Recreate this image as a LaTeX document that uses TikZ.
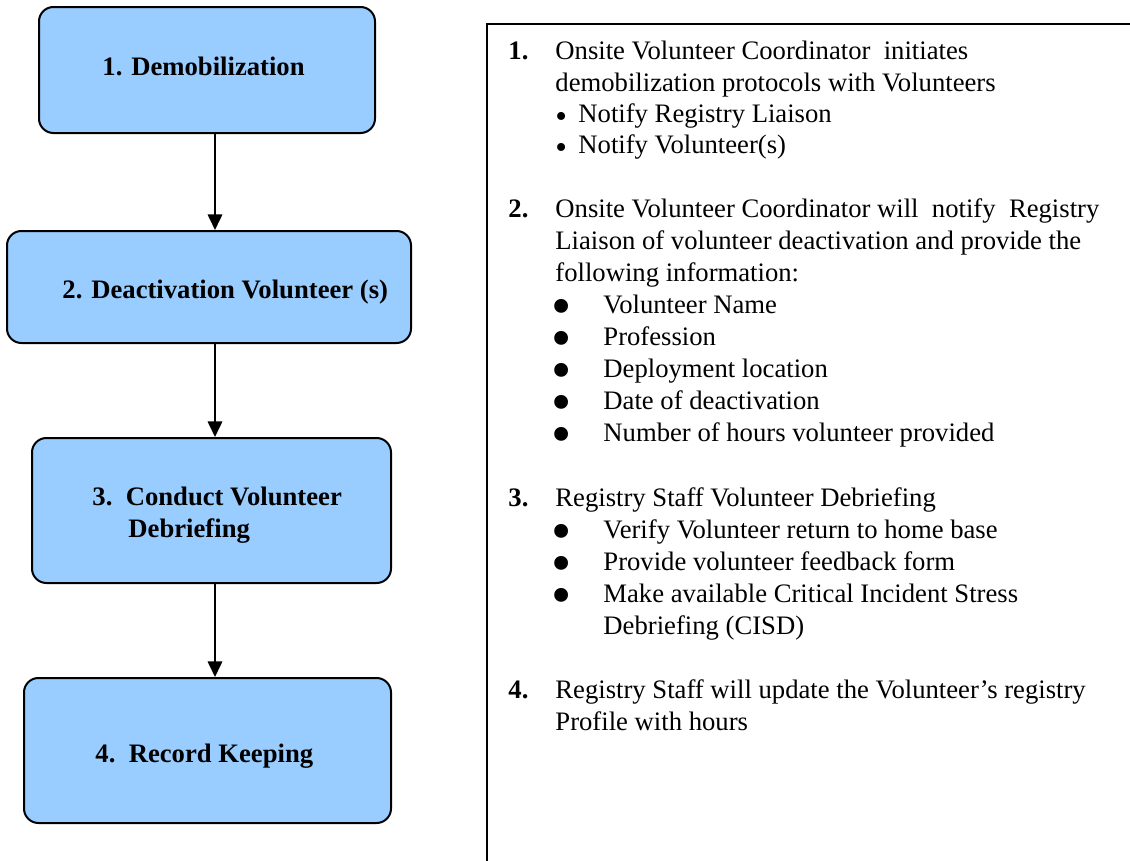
\documentclass[tikz,border=0pt,12pt]{standalone}
\usepackage{fontspec}
\setmainfont{Liberation Serif}
\usetikzlibrary{arrows.meta,fit}
\definecolor{boxblue}{HTML}{99CCFF}

\begin{document}
\begin{tikzpicture}[x=0.45pt,y=-0.45pt,
  flowbox/.style={draw,line width=0.9pt,rounded corners=6.5pt,fill=boxblue,inner sep=0pt},
  boxtext/.style={anchor=base west,font=\bfseries,inner sep=0pt},
  itemtext/.style={anchor=base west,inner sep=0pt},
  smalldot/.style={anchor=base west,inner sep=0pt,font=\fontsize{15}{15}\selectfont},
  bigdot/.style={anchor=base west,inner sep=0pt,font=\fontsize{26}{26}\selectfont},
  flowarrow/.style={line width=0.9pt,-{Triangle[width=6.5pt,length=7pt]}}]
\useasboundingbox (0,0) rectangle (1130,861);
% flow boxes
\node[flowbox,fit={(39,7) (375,133)}] (s1) {};
\node[flowbox,fit={(7,231) (411,343)}] (s2) {};
\node[flowbox,fit={(32,438) (391,583)}] (s3) {};
\node[flowbox,fit={(24,678) (391,823)}] (s4) {};
\node[boxtext] (t1) at (102,76) {1. Demobilization};
\node[boxtext] (t2) at (62,298) {2. Deactivation Volunteer (s)};
\node[boxtext] (t3a) at (92,505) {3.\ \ Conduct Volunteer};
\node[boxtext] (t3b) at (128,537) {Debriefing};
\node[boxtext] (t4) at (95,762) {4.\ \ Record Keeping};
% arrows
\coordinate (ax) at (215,0);
\foreach \a/\b in {s1/s2,s2/s3,s3/s4}{\draw[flowarrow] (\a.south -| ax) -- (\b.north -| ax);}
% notes panel
\coordinate (p0) at (487,861); \coordinate (p1) at (487,24); \coordinate (p2) at (1130,24);
\draw[line width=0.9pt] (p0) -- (p1) -- (p2);
\foreach \n/\y in {1/60,2/217,3/506,4/698}{\node[itemtext,font=\bfseries] (n\n) at (508,\y) {\n.};}
\foreach \y/\txt in {60/Onsite Volunteer Coordinator\ \ initiates,91/demobilization protocols with Volunteers,
  217/Onsite Volunteer Coordinator will\ \ notify\ \ Registry,249/Liaison of volunteer deactivation and provide the,
  281/following information:,506/Registry Staff Volunteer Debriefing,
  698/Registry Staff will update the Volunteer’s registry,730/Profile with hours}
  {\node[itemtext] (l\y) at (555,\y) {\txt};}
\foreach \y/\txt in {122/Notify Registry Liaison,153/Notify Volunteer(s)}
  {\node[smalldot] (d\y) at (555,\y+5) {\smash{•}}; \node[itemtext] (l\y) at (578,\y) {\txt};}
\foreach \y/\txt in {313/Volunteer Name,345/Profession,377/Deployment location,409/Date of deactivation,
  441/Number of hours volunteer provided,538/Verify Volunteer return to home base,
  570/Provide volunteer feedback form,602/Make available Critical Incident Stress}
  {\node[bigdot] (d\y) at (551,\y+12) {\smash{•}}; \node[itemtext] (l\y) at (603,\y) {\txt};}
\node[itemtext] (l634) at (603,634) {Debriefing (CISD)};
\end{tikzpicture}
\end{document}
